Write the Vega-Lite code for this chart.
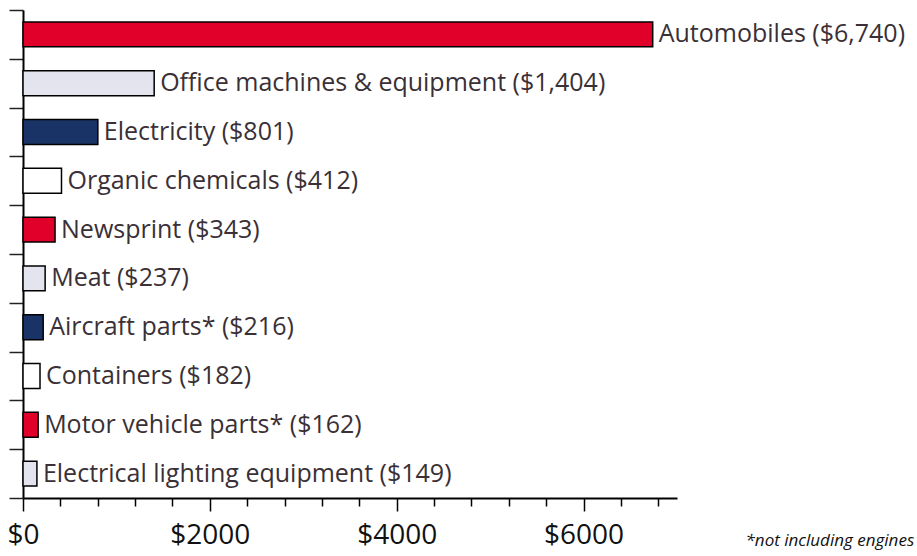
{
  "$schema": "https://vega.github.io/schema/vega-lite/v6.json",
  "width": 654,
  "height": 488,
  "autosize": {"type": "none"},
  "padding": {"left": 23, "top": 10, "right": 240, "bottom": 58},
  "background": "white",
  "config": {"view": {"stroke": null}},
  "data": {
    "values": [
      {"item": "Automobiles", "value": 6740, "label": "Automobiles ($6,740)"},
      {"item": "Office machines & equipment", "value": 1404, "label": "Office machines & equipment ($1,404)"},
      {"item": "Electricity", "value": 801, "label": "Electricity ($801)"},
      {"item": "Organic chemicals", "value": 412, "label": "Organic chemicals ($412)"},
      {"item": "Newsprint", "value": 343, "label": "Newsprint ($343)"},
      {"item": "Meat", "value": 237, "label": "Meat ($237)"},
      {"item": "Aircraft parts*", "value": 216, "label": "Aircraft parts* ($216)"},
      {"item": "Containers", "value": 182, "label": "Containers ($182)"},
      {"item": "Motor vehicle parts*", "value": 162, "label": "Motor vehicle parts* ($162)"},
      {"item": "Electrical lighting equipment", "value": 149, "label": "Electrical lighting equipment ($149)"}
    ]
  },
  "encoding": {
    "y": {
      "field": "item",
      "type": "nominal",
      "sort": null,
      "scale": {"paddingInner": 0, "paddingOuter": 0},
      "axis": {
        "title": null,
        "labels": false,
        "tickBand": "extent",
        "tickSize": 14,
        "tickColor": "#222",
        "tickWidth": 1.5,
        "domainColor": "black",
        "domainWidth": 2,
        "grid": false
      }
    },
    "x": {
      "field": "value",
      "type": "quantitative",
      "scale": {"domain": [0, 7000], "nice": false},
      "axis": {
        "values": [0, 400, 800, 1200, 1600, 2000, 2400, 2800, 3200, 3600, 4000, 4400, 4800, 5200, 5600, 6000, 6400, 6800],
        "labelExpr": "datum.value % 2000 === 0 ? '$' + datum.value : ''",
        "labelOverlap": false,
        "labelFlush": false,
        "labelFont": "Open Sans",
        "labelFontSize": 28,
        "labelColor": "#111",
        "labelPadding": 10,
        "tickSize": {"condition": {"test": "datum.value % 2000 === 0", "value": 13}, "value": 8},
        "tickColor": "black",
        "tickWidth": 1.5,
        "domainColor": "black",
        "domainWidth": 2,
        "grid": false,
        "title": "*not including engines",
        "titleFont": "Open Sans",
        "titleFontSize": 17,
        "titleFontStyle": "italic",
        "titleFontWeight": "normal",
        "titleColor": "#111",
        "titleX": 722,
        "titleY": 47,
        "titleAlign": "left",
        "titleBaseline": "alphabetic"
      }
    }
  },
  "layer": [
    {
      "mark": {"type": "bar", "height": {"band": 0.51}, "stroke": "black", "strokeWidth": 1.5},
      "encoding": {
        "color": {
          "field": "item",
          "type": "nominal",
          "sort": null,
          "legend": null,
          "scale": {
            "domain": ["Automobiles", "Office machines & equipment", "Electricity", "Organic chemicals", "Newsprint", "Meat", "Aircraft parts*", "Containers", "Motor vehicle parts*", "Electrical lighting equipment"],
            "range": ["#E0002A", "#E4E4EE", "#1A3366", "#FFFFFF", "#E0002A", "#E4E4EE", "#1A3366", "#FFFFFF", "#E0002A", "#E4E4EE"]
          }
        }
      }
    },
    {
      "mark": {"type": "text", "align": "left", "baseline": "middle", "dx": 6, "font": "Open Sans", "fontSize": 25, "color": "#3a3036"},
      "encoding": {"text": {"field": "label"}}
    }
  ]
}
